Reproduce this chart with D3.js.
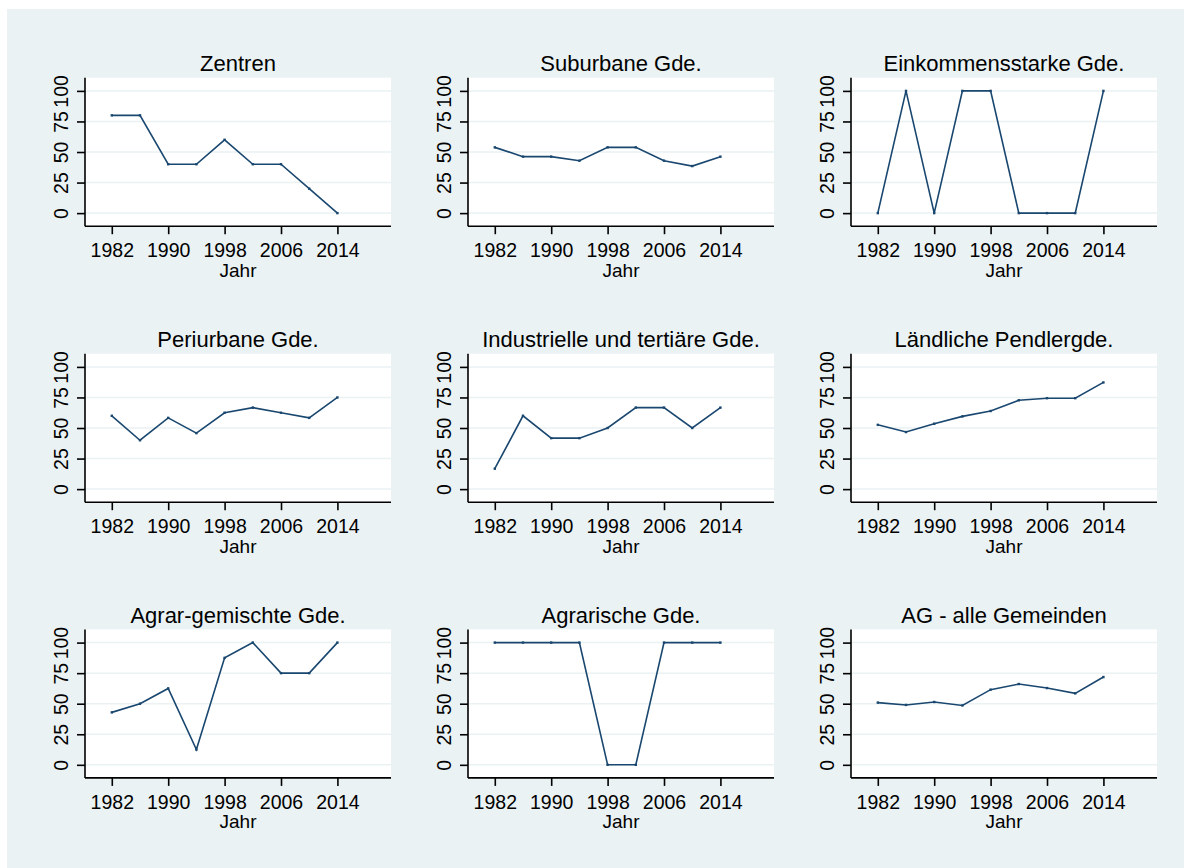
<!DOCTYPE html>
<html>
<head>
<meta charset="utf-8">
<script src="https://cdn.jsdelivr.net/npm/d3@7"></script>
<style>
  body { margin: 0; background: #ffffff; }
  text { font-family: "Liberation Sans", Arial, sans-serif; fill: #000; }
</style>
</head>
<body>
<div id="chart"></div>
<script>
const WIDTH = 1184;
const HEIGHT = 868;

// data
const years = [1982, 1986, 1990, 1994, 1998, 2002, 2006, 2010, 2014];
const xTicks = [1982, 1990, 1998, 2006, 2014];
const yTicks = [0, 25, 50, 75, 100];

const zentren = [80, 80, 40, 40, 60, 40, 40, 20, 0];
const suburbane = [53.8, 46.2, 46.2, 42.9, 53.8, 53.8, 42.9, 38.5, 46.2];
const einkommensstarke = [0, 100, 0, 100, 100, 0, 0, 0, 100];
const periurbane = [60, 40, 58.3, 45.8, 62.5, 66.7, 62.5, 58.3, 75];
const industrielle = [16.7, 60, 41.7, 41.7, 50, 66.7, 66.7, 50, 66.7];
const laendliche = [52.6, 46.7, 53.5, 59.5, 63.9, 72.7, 74.4, 74.4, 87.3];
const agrarGemischt = [42.9, 50, 62.5, 12.5, 87.5, 100, 75, 75, 100];
const agrarisch = [100, 100, 100, 100, 0, 0, 100, 100, 100];
const alleGemeinden = [50.9, 49, 51.4, 48.6, 61.5, 66.1, 62.8, 58.5, 71.8];

const titles = ["Zentren", "Suburbane Gde.", "Einkommensstarke Gde.",
    "Periurbane Gde.", "Industrielle und tertiäre Gde.", "Ländliche Pendlergde.",
    "Agrar-gemischte Gde.", "Agrarische Gde.", "AG - alle Gemeinden"];
const series = [zentren, suburbane, einkommensstarke,
    periurbane, industrielle, laendliche,
    agrarGemischt, agrarisch, alleGemeinden];

const LINE = "#1a476f";
const BG = "#eaf2f3";

// plot region positions
const colLeft = [85, 468, 851];
const rowTop = [77.7, 353.7, 629.4];
const PW = 306;
const PH = 148.5;

let svg = d3.select("#chart")
    .append("svg")
    .attr("width", WIDTH)
    .attr("height", HEIGHT);

// outer graph background
svg.append("rect")
    .attr("x", 7)
    .attr("y", 9)
    .attr("width", WIDTH - 7)
    .attr("height", HEIGHT - 9)
    .attr("fill", BG);

let x = d3.scaleLinear().domain([1978.2, 2021.6]).range([0, PW]);
let y = d3.scaleLinear().domain([-10.7, 110.8]).range([PH, 0]);

let line = d3.line()
    .x(function(d, i) { return x(years[i]) })
    .y(function(d) { return y(d) });

series.forEach(function(vals, k) {
    let g = svg.append("g")
        .attr("transform", `translate(${colLeft[k % 3]},${rowTop[Math.floor(k / 3)]})`);

    g.append("rect")
        .attr("width", PW)
        .attr("height", PH)
        .attr("fill", "#ffffff");

    // gridlines
    g.selectAll(".grid")
        .data(yTicks)
        .enter()
        .append("line")
        .attr("x1", 0)
        .attr("x2", PW)
        .attr("y1", function(d) { return y(d) })
        .attr("y2", function(d) { return y(d) })
        .attr("stroke", BG)
        .attr("stroke-width", 1.5);

    // y axis
    let ya = g.append("g")
        .call(d3.axisLeft(y).tickValues(yTicks).tickSize(8).tickPadding(0).tickFormat(d3.format("d")));
    ya.select(".domain").attr("d", `M0,0V${PH}`).attr("stroke", "#000").attr("stroke-width", 1.6);
    ya.selectAll(".tick line").attr("stroke", "#000").attr("stroke-width", 1.6);
    ya.selectAll(".tick text")
        .attr("x", null)
        .attr("dy", null)
        .attr("text-anchor", "middle")
        .attr("transform", "translate(-16.7,0) rotate(-90)")
        .style("font-size", "19.5px")
        .style("font-family", "'Liberation Sans', Arial, sans-serif")
        .attr("fill", "#000");

    // x axis
    let xa = g.append("g")
        .attr("transform", `translate(0,${PH})`)
        .call(d3.axisBottom(x).tickValues(xTicks).tickSize(8).tickFormat(d3.format("d")));
    xa.select(".domain").attr("d", `M0,0H${PW}`).attr("stroke", "#000").attr("stroke-width", 1.6);
    xa.selectAll(".tick line").attr("stroke", "#000").attr("stroke-width", 1.6);
    xa.selectAll(".tick text")
        .attr("y", 31)
        .attr("dy", null)
        .style("font-size", "19.5px")
        .style("font-family", "'Liberation Sans', Arial, sans-serif")
        .attr("fill", "#000");

    g.append("text")
        .attr("x", PW / 2)
        .attr("y", PH + 50.5)
        .attr("text-anchor", "middle")
        .style("font-size", "19px")
        .text("Jahr");

    g.append("text")
        .attr("x", PW / 2)
        .attr("y", -6.5)
        .attr("text-anchor", "middle")
        .style("font-size", "22px")
        .text(titles[k]);

    g.append("path")
        .attr("d", line(vals))
        .attr("fill", "none")
        .attr("stroke", LINE)
        .attr("stroke-width", 1.6)
        .attr("stroke-linejoin", "miter");

    g.selectAll(".pt")
        .data(vals)
        .enter()
        .append("rect")
        .attr("x", function(d, i) { return x(years[i]) - 1.2 })
        .attr("y", function(d) { return y(d) - 1.2 })
        .attr("width", 2.4)
        .attr("height", 2.4)
        .attr("fill", LINE);
});
</script>
</body>
</html>
